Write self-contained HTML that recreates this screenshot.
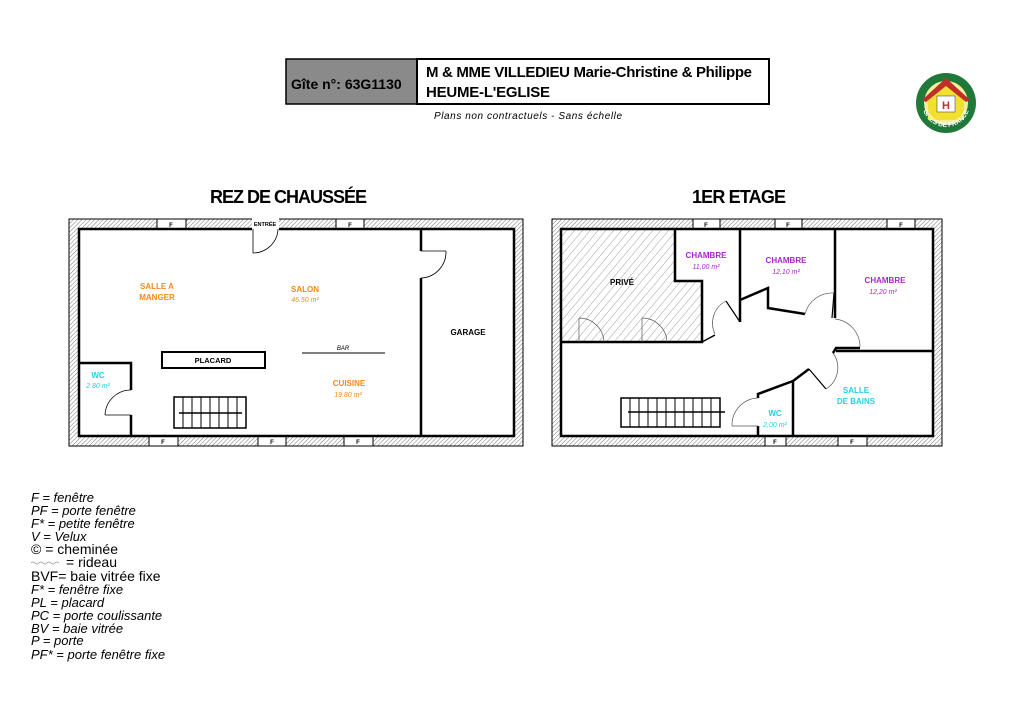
<!DOCTYPE html>
<html><head><meta charset="utf-8"><style>
html,body{margin:0;padding:0;background:#fff;}
svg{display:block;font-family:"Liberation Sans",sans-serif;}
</style></head><body>
<svg width="1024" height="724" viewBox="0 0 1024 724" xmlns="http://www.w3.org/2000/svg">
<defs>
<pattern id="h" width="3" height="3" patternUnits="userSpaceOnUse" patternTransform="rotate(45)">
<rect width="3" height="3" fill="#fff"/><line x1="0" y1="0" x2="0" y2="3" stroke="#777" stroke-width="1"/>
</pattern>
<pattern id="ph" width="6" height="6" patternUnits="userSpaceOnUse" patternTransform="rotate(40)">
<rect width="6" height="6" fill="#fff"/><line x1="0" y1="0" x2="0" y2="6" stroke="#888" stroke-width="0.8"/>
</pattern>
</defs>
<rect width="1024" height="724" fill="#fff"/>

<!-- Header -->
<rect x="286" y="59" width="131" height="45" fill="#8a8a8a" stroke="#000" stroke-width="1.5"/>
<rect x="417" y="59" width="352" height="45" fill="#fff" stroke="#000" stroke-width="2"/>
<text x="291" y="89" font-size="14" font-weight="bold">Gîte n°: 63G1130</text>
<text x="426" y="77" font-size="15" font-weight="bold" textLength="326">M &amp; MME VILLEDIEU Marie-Christine &amp; Philippe</text>
<text x="426" y="97" font-size="15" font-weight="bold" textLength="124">HEUME-L'EGLISE</text>
<text x="434" y="119" font-size="10" font-style="italic" textLength="188">Plans non contractuels - Sans échelle</text>

<!-- Logo -->
<circle cx="946" cy="103" r="30" fill="#1f7a3a"/>
<circle cx="946" cy="103" r="22" fill="#f6ef9a"/>
<polygon points="928,100 946,84 964,100 964,120 928,120" fill="#f2e030"/>
<polygon points="922,100 946,78 970,100 966,102 946,86 926,102" fill="#c0302a"/>
<rect x="937" y="96" width="18" height="16" fill="#fff" stroke="#333" stroke-width="0.5"/>
<text x="946" y="109" font-size="11" font-weight="bold" fill="#c0302a" text-anchor="middle">H</text>
<path id="arc" d="M922,103 A24,24 0 0 0 970,103" fill="none"/>
<text font-size="6.5" font-weight="bold" fill="#fff"><textPath href="#arc" startOffset="50%" text-anchor="middle">GITES DE FRANCE</textPath></text>

<!-- Titles -->
<text x="210" y="203" font-size="18" font-weight="bold" textLength="157">REZ DE CHAUSSÉE</text>
<text x="692" y="203" font-size="18" font-weight="bold" textLength="94">1ER ETAGE</text>

<!-- LEFT PLAN -->
<rect x="69" y="219" width="454" height="227" fill="url(#h)" stroke="#000" stroke-width="1"/>
<rect x="79" y="229" width="435" height="207" fill="#fff"/>
<g fill="#fff" stroke="#000" stroke-width="1">
<rect x="157" y="219" width="29" height="10"/><rect x="336" y="219" width="28" height="10"/>
<rect x="149" y="436" width="29" height="10"/><rect x="258" y="436" width="28" height="10"/><rect x="344" y="436" width="29" height="10"/>
<rect x="252" y="218" width="27" height="12" stroke="none"/>
</g>
<g font-size="6" font-weight="bold" text-anchor="middle">
<text x="171" y="227">F</text><text x="350" y="227">F</text>
<text x="163" y="444">F</text><text x="272" y="444">F</text><text x="358" y="444">F</text>
<text x="265" y="226" font-size="5.5">ENTRÉE</text>
</g>
<g fill="none" stroke="#000" stroke-width="2.5">
<polyline points="252,229 79,229 79,436 514,436 514,229 279,229"/>
<line x1="421" y1="229" x2="421" y2="251"/><line x1="421" y1="278" x2="421" y2="436"/>
<polyline points="79,363 131,363 131,390"/><line x1="131" y1="415" x2="131" y2="436"/>
</g>
<g fill="none" stroke="#000" stroke-width="0.8">
<line x1="253" y1="229" x2="253" y2="253"/><path d="M253,253 A25,25 0 0 0 278,229"/>
<line x1="421" y1="251" x2="446" y2="251"/><path d="M446,251 A26,26 0 0 1 421,278"/>
<line x1="131" y1="415" x2="105" y2="415"/><path d="M105,415 A26,26 0 0 1 131,390"/>
</g>
<rect x="162" y="352" width="103" height="16" fill="#fff" stroke="#000" stroke-width="2"/>
<text x="213" y="363" font-size="7.5" font-weight="bold" text-anchor="middle">PLACARD</text>
<line x1="302" y1="353" x2="385" y2="353" stroke="#000" stroke-width="1"/>
<text x="343" y="350" font-size="6" font-style="italic" text-anchor="middle">BAR</text>
<g stroke="#000" stroke-width="1" fill="none">
<rect x="174" y="397" width="72" height="31" stroke-width="1.5"/>
<path d="M183,397V428M192,397V428M201,397V428M210,397V428M219,397V428M228,397V428M237,397V428"/>
<line x1="179" y1="413" x2="242" y2="413" stroke-width="1.5"/>
</g>
<g font-weight="bold" text-anchor="middle" fill="#f08a1a">
<text x="157" y="289" font-size="8">SALLE A</text><text x="157" y="300" font-size="8">MANGER</text>
<text x="305" y="292" font-size="8">SALON</text><text x="305" y="302" font-size="7" font-weight="normal" font-style="italic">46.50 m²</text>
<text x="349" y="386" font-size="8">CUISINE</text><text x="348" y="397" font-size="7" font-weight="normal" font-style="italic">19.80 m²</text>
</g>
<g text-anchor="middle" fill="#22d0e0">
<text x="98" y="378" font-size="8" font-weight="bold">WC</text><text x="98" y="388" font-size="7" font-style="italic">2.80 m²</text>
</g>
<text x="468" y="335" font-size="8" font-weight="bold" text-anchor="middle">GARAGE</text>

<!-- RIGHT PLAN -->
<rect x="552" y="219" width="390" height="227" fill="url(#h)" stroke="#000" stroke-width="1"/>
<rect x="561" y="229" width="372" height="207" fill="#fff"/>
<polygon points="561,229 675,229 675,281 702,281 702,342 561,342" fill="url(#ph)"/>
<g fill="#fff" stroke="#000" stroke-width="1">
<rect x="693" y="219" width="27" height="10"/><rect x="775" y="219" width="27" height="10"/><rect x="887" y="219" width="28" height="10"/>
<rect x="765" y="436" width="21" height="10"/><rect x="838" y="436" width="29" height="10"/>
</g>
<g font-size="6" font-weight="bold" text-anchor="middle">
<text x="706" y="227">F</text><text x="788" y="227">F</text><text x="901" y="227">F</text>
<text x="775" y="444">F</text><text x="852" y="444">F</text>
</g>
<g fill="none" stroke="#000" stroke-width="2.5">
<rect x="561" y="229" width="372" height="207"/>
<polyline points="675,229 675,281 702,281 702,342 561,342"/>
<line x1="702" y1="342" x2="715" y2="335" stroke-width="1.5"/>
<line x1="740" y1="229" x2="740" y2="322"/>
<polyline points="740,300 768,288 768,308 805,314"/>
<line x1="835" y1="229" x2="835" y2="318"/>
<polyline points="860,348 836,348 833,353"/>
<line x1="836" y1="351" x2="933" y2="351"/>
<polyline points="809,369 793,381 793,436"/>
<polyline points="793,381 758,394 758,398"/>
<line x1="758" y1="426" x2="758" y2="436"/>
</g>
<g fill="none" stroke="#000" stroke-width="1.2">
<line x1="740" y1="322" x2="726" y2="301"/>
<line x1="834" y1="293" x2="832" y2="318"/>
<line x1="826" y1="389" x2="809" y2="369"/>
</g>
<g fill="none" stroke="#555" stroke-width="0.7">
<path d="M726,301 A25,25 0 0 0 715,334"/>
<path d="M805,314 A28,28 0 0 1 834,293"/>
<path d="M835,319 A28,28 0 0 1 860,347"/>
<path d="M833,353 A25,25 0 0 1 826,389"/>
<path d="M758,398 A27,27 0 0 0 732,426"/><line x1="732" y1="426" x2="758" y2="426"/>
<line x1="579" y1="318" x2="579" y2="342"/><path d="M579,318 A25,25 0 0 1 604,342"/>
<line x1="642" y1="318" x2="642" y2="342"/><path d="M642,318 A25,25 0 0 1 667,342"/>
</g>
<g stroke="#000" stroke-width="1" fill="none">
<rect x="621" y="398" width="99" height="29" stroke-width="1.5"/>
<path d="M630,398V427M639,398V427M648,398V427M657,398V427M666,398V427M675,398V427M684,398V427M693,398V427M702,398V427M711,398V427"/>
<line x1="628" y1="412" x2="725" y2="412" stroke-width="1.5"/>
</g>
<text x="622" y="285" font-size="8" font-weight="bold" text-anchor="middle">PRIVÉ</text>
<g text-anchor="middle" fill="#a828c8">
<text x="706" y="258" font-size="8" font-weight="bold">CHAMBRE</text><text x="706" y="269" font-size="7" font-style="italic">11,00 m²</text>
<text x="786" y="263" font-size="8" font-weight="bold">CHAMBRE</text><text x="786" y="274" font-size="7" font-style="italic">12,10 m²</text>
<text x="885" y="283" font-size="8" font-weight="bold">CHAMBRE</text><text x="883" y="294" font-size="7" font-style="italic">12,20 m²</text>
</g>
<g text-anchor="middle" fill="#22d0e0">
<text x="856" y="393" font-size="8" font-weight="bold">SALLE</text><text x="856" y="404" font-size="8" font-weight="bold">DE BAINS</text>
<text x="775" y="416" font-size="8" font-weight="bold">WC</text><text x="775" y="427" font-size="7" font-style="italic">2,00 m²</text>
</g>

<!-- Legend -->
<g font-size="13" fill="#000">
<text x="31" y="502" font-style="italic">F = fenêtre</text>
<text x="31" y="515" font-style="italic">PF = porte fenêtre</text>
<text x="31" y="528" font-style="italic">F* = petite fenêtre</text>
<text x="31" y="541" font-style="italic">V = Velux</text>
<text x="31" y="554" font-size="14">© = cheminée</text>
<path d="M31,563 q2,-2 4,0 t4,0 t4,0 t4,0 t4,0 t4,0 t4,0" fill="none" stroke="#999" stroke-width="0.7"/>
<text x="66" y="567" font-size="14">= rideau</text>
<text x="31" y="581" font-size="14">BVF= baie vitrée fixe</text>
<text x="31" y="594" font-style="italic">F* = fenêtre fixe</text>
<text x="31" y="607" font-style="italic">PL = placard</text>
<text x="31" y="620" font-style="italic">PC = porte coulissante</text>
<text x="31" y="633" font-style="italic">BV = baie vitrée</text>
<text x="31" y="645" font-style="italic">P = porte</text>
<text x="31" y="659" font-style="italic">PF* = porte fenêtre fixe</text>
</g>
</svg>
</body></html>
